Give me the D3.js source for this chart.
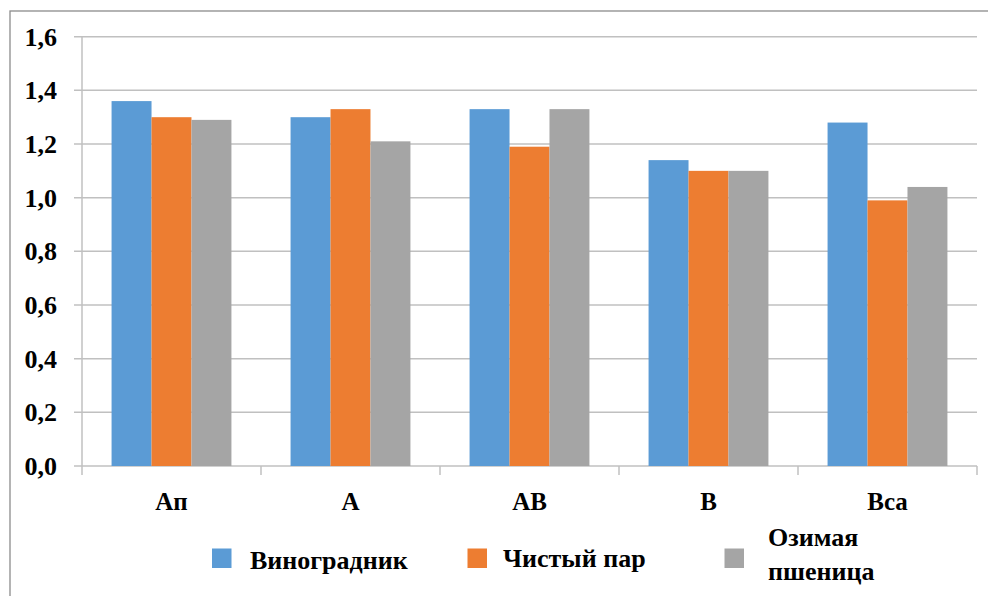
<!DOCTYPE html>
<html>
<head>
<meta charset="utf-8">
<script src="https://cdn.jsdelivr.net/npm/d3@7/dist/d3.min.js"></script>
<style>
  html, body { margin: 0; padding: 0; background: #fff; }
  svg { display: block; }
</style>
</head>
<body>
<svg id="chart" width="988" height="596" style="font-family: 'Times New Roman', 'Liberation Serif', serif; font-weight: bold;"></svg>
<script>
// Soil horizons along the x axis
const categories = ["Ап", "А", "АВ", "В", "Вса"];
// Land-use series
const seriesNames = ["Виноградник", "Чистый пар", "Озимая пшеница"];
const vineyard = [1.36, 1.30, 1.33, 1.14, 1.28];
const fallow   = [1.30, 1.33, 1.19, 1.10, 0.99];
const wheat    = [1.29, 1.21, 1.33, 1.10, 1.04];
const yTicks = [0, 0.2, 0.4, 0.6, 0.8, 1.0, 1.2, 1.4, 1.6];
const colors = ["#5b9bd5", "#ed7d31", "#a5a5a5"];

(function () {
  const seriesValues = [vineyard, fallow, wheat];
  const rows = categories.map((c, i) => ({
    cat: c,
    vals: seriesNames.map((s, j) => ({ key: s, value: seriesValues[j][i], color: colors[j] }))
  }));

  const label = (sel, size) => sel
    .attr("font-family", "Times New Roman, Liberation Serif, serif")
    .attr("font-weight", "bold")
    .attr("font-size", size)
    .attr("fill", "#000");

  const svg = d3.select("#chart");
  const plotLeft = 82, plotRight = 977, plotTop = 36.7, plotBottom = 466;

  // outer chart frame
  svg.append("rect")
    .attr("x", 10).attr("y", 11)
    .attr("width", 1000).attr("height", 620)
    .attr("fill", "none").attr("stroke", "#8c8c8c").attr("stroke-width", 1.3);

  const y = d3.scaleLinear().domain([0, 1.6]).range([plotBottom, plotTop]);
  const x0 = d3.scaleBand().domain(categories).range([plotLeft, plotRight]).padding(0);
  const x1 = d3.scaleBand().domain(seriesNames).range([0, x0.bandwidth()])
    .paddingInner(0).paddingOuter(0.74);

  const gridColor = "#c0c0c0";

  // horizontal gridlines with short left ticks
  svg.append("g").selectAll("line").data(yTicks).join("line")
    .attr("x1", plotLeft - 8).attr("x2", plotRight)
    .attr("y1", d => y(d)).attr("y2", d => y(d))
    .attr("stroke", gridColor).attr("stroke-width", 1.5);

  // vertical axis line
  svg.append("line")
    .attr("x1", plotLeft).attr("x2", plotLeft)
    .attr("y1", plotTop).attr("y2", plotBottom + 9)
    .attr("stroke", gridColor).attr("stroke-width", 1.5);

  // category boundary ticks
  const bounds = categories.map(c => x0(c) + x0.bandwidth());
  svg.append("g").selectAll("line").data(bounds).join("line")
    .attr("x1", d => d).attr("x2", d => d)
    .attr("y1", plotBottom).attr("y2", plotBottom + 9)
    .attr("stroke", gridColor).attr("stroke-width", 1.5);

  // bars
  const groups = svg.append("g").selectAll("g").data(rows).join("g")
    .attr("transform", d => `translate(${x0(d.cat)},0)`);
  groups.selectAll("rect").data(d => d.vals).join("rect")
    .attr("x", d => x1(d.key))
    .attr("width", x1.bandwidth())
    .attr("y", d => y(d.value))
    .attr("height", d => plotBottom - y(d.value))
    .attr("fill", d => d.color);

  // y tick labels
  const fmt = d => d3.format(".1f")(d).replace(".", ",");
  svg.append("g").selectAll("text").data(yTicks).join("text")
    .attr("x", 57).attr("y", d => y(d) + 9)
    .attr("text-anchor", "end")
    .call(label, 26)
    .text(fmt);

  // x category labels
  svg.append("g").selectAll("text").data(categories).join("text")
    .attr("x", d => x0(d) + x0.bandwidth() / 2)
    .attr("y", 509.5)
    .attr("text-anchor", "middle")
    .call(label, 25)
    .text(d => d);

  // legend
  const legendItems = [
    { lines: ["Виноградник"], sx: 212, tx: 250, base: [569] },
    { lines: ["Чистый пар"], sx: 467.5, tx: 503, base: [567] },
    { lines: ["Озимая", "пшеница"], sx: 724.5, tx: 768, base: [546, 580] }
  ];
  const lg = svg.append("g").selectAll("g").data(legendItems).join("g");
  lg.append("rect")
    .attr("x", d => d.sx).attr("y", 548.5)
    .attr("width", 19.5).attr("height", 19.5)
    .attr("fill", (d, i) => colors[i]);
  lg.each(function (d) {
    const g = d3.select(this);
    d.lines.forEach((t, k) => {
      g.append("text")
        .attr("x", d.tx).attr("y", d.base[k])
        .call(label, 26)
        .text(t);
    });
  });
})();
</script>
</body>
</html>
